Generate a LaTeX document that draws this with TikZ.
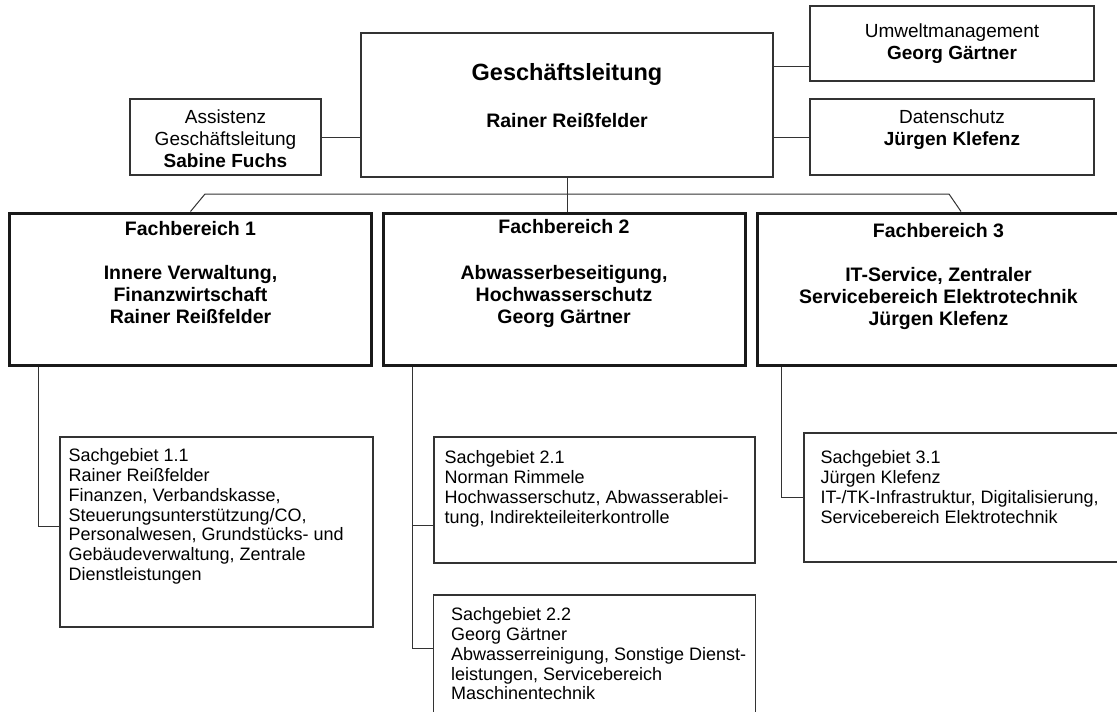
\documentclass[tikz,border=0pt]{standalone}
\usepackage{fontspec}
\setmainfont{Liberation Sans}
\usetikzlibrary{positioning,calc}
\begin{document}
\begin{tikzpicture}[x=1pt,y=-1pt,
  line/.style={draw=black!80, line width=1pt},
  box/.style={draw=black!80, line width=1.2pt, inner sep=0pt},
  fbbox/.style={draw=black!90, line width=3pt, inner sep=0pt, minimum width=362pt, minimum height=152pt},
  toptext/.style={inner sep=0pt, align=center, font=\fontsize{19}{22}\selectfont},
  fbtext/.style={inner sep=0pt, align=center, font=\fontsize{19.5}{22}\selectfont\bfseries},
  sgtext/.style={inner sep=0pt, align=left, font=\fontsize{18}{19.8}\selectfont}]
  \useasboundingbox (0,0) rectangle (1117,712);
  \clip (0,0) rectangle (1117,712);

  % Leitung und Stabsstellen
  \node[box, minimum width=412pt, minimum height=144pt] (gl) at (567,105) {};
  \node[inner sep=0pt, font=\fontsize{23.5}{28}\selectfont\bfseries, below=31pt of gl.north] (gltitle) {Geschäftsleitung};
  \node[fbtext, below=81pt of gl.north] (glname) {Rainer Reißfelder};
  \node[box, minimum width=191pt, minimum height=76pt] (ass) at (225.5,137) {};
  \node[toptext, below=11pt of ass.north] (asstext) {Assistenz\\Geschäftsleitung\\\textbf{Sabine Fuchs}};
  \node[box, minimum width=284pt, minimum height=75pt] (um) at (952,43.5) {};
  \node[toptext, below=18pt of um.north] (umtext) {Umweltmanagement\\\textbf{Georg Gärtner}};
  \node[box, minimum width=284pt, minimum height=76pt] (ds) at (952,137) {};
  \node[toptext, below=11pt of ds.north] (dstext) {Datenschutz\\\textbf{Jürgen Klefenz}};

  % Fachbereiche
  \node[fbbox] (fb1) at (190.5,289) {};
  \node[fbbox] (fb2) at (564,289) {};
  \node[fbbox] (fb3) at (938.5,289) {};
  \node[fbtext, below=10pt of fb1.north] (fb1text) {Fachbereich 1\\[22pt]Innere Verwaltung,\\Finanzwirtschaft\\Rainer Reißfelder};
  \node[fbtext, below=8pt of fb2.north] (fb2text) {Fachbereich 2\\[24pt]Abwasserbeseitigung,\\Hochwasserschutz\\Georg Gärtner};
  \node[fbtext, below=12pt of fb3.north] (fb3text) {Fachbereich 3\\[22pt]IT-Service, Zentraler\\Servicebereich Elektrotechnik\\Jürgen Klefenz};

  % Sachgebiete
  \node[box, minimum width=313pt, minimum height=190pt] (sg11) at (216.5,532) {};
  \node[sgtext, below right=12pt and 9pt of sg11.north west] (sg11text) {Sachgebiet 1.1\\Rainer Reißfelder\\Finanzen, Verbandskasse,\\Steuerungsunterstützung/CO,\\Personalwesen, Grundstücks- und\\Gebäudeverwaltung, Zentrale\\Dienstleistungen};
  \node[box, minimum width=321pt, minimum height=126pt] (sg21) at (594.5,500) {};
  \node[sgtext, below right=14pt and 11pt of sg21.north west] (sg21text) {Sachgebiet 2.1\\Norman Rimmele\\Hochwasserschutz, Abwasserablei-\\tung, Indirekteileiterkontrolle};
  \node[box, minimum width=322pt, minimum height=140pt] (sg22) at (594.5,665) {};
  \node[sgtext, below right=13pt and 18pt of sg22.north west] (sg22text) {Sachgebiet 2.2\\Georg Gärtner\\Abwasserreinigung, Sonstige Dienst-\\leistungen, Servicebereich\\Maschinentechnik};
  \node[box, minimum width=330pt, minimum height=129pt] (sg31) at (969,497.5) {};
  \node[sgtext, below right=18pt and 17pt of sg31.north west] (sg31text) {Sachgebiet 3.1\\Jürgen Klefenz\\IT-/TK-Infrastruktur, Digitalisierung,\\Servicebereich Elektrotechnik};

  % Linien
  \draw[line] (ass.east) -- (ass.east -| gl.west);
  \draw[line] (ds.west) -- (ds.west -| gl.east);
  \coordinate (umc) at ($(um.south west)+(0,-15)$);
  \draw[line] (umc) -- (umc -| gl.east);
  \coordinate (busL) at (205,194);
  \coordinate (busR) at (949,194);
  \draw[line] (fb1.north) -- (busL) -- (busR) -- ($(fb3.north)+(22.5,0)$);
  \draw[line] (gl.south) -- (gl.south |- fb2.north);
  \coordinate (d1) at ($(fb1.south west)+(30.5,0)$);
  \draw[line] (d1) |- ($(sg11.west)+(0,-6)$);
  \coordinate (d2) at ($(fb2.south west)+(31,0)$);
  \draw[line] (d2) |- ($(sg22.north west)+(0,54)$);
  \coordinate (c21) at ($(sg21.north west)+(0,89)$);
  \draw[line] (c21) -- (c21 -| d2);
  \coordinate (d3) at ($(fb3.south west)+(25.5,0)$);
  \draw[line] (d3) |- (sg31.west);
\end{tikzpicture}
\end{document}
